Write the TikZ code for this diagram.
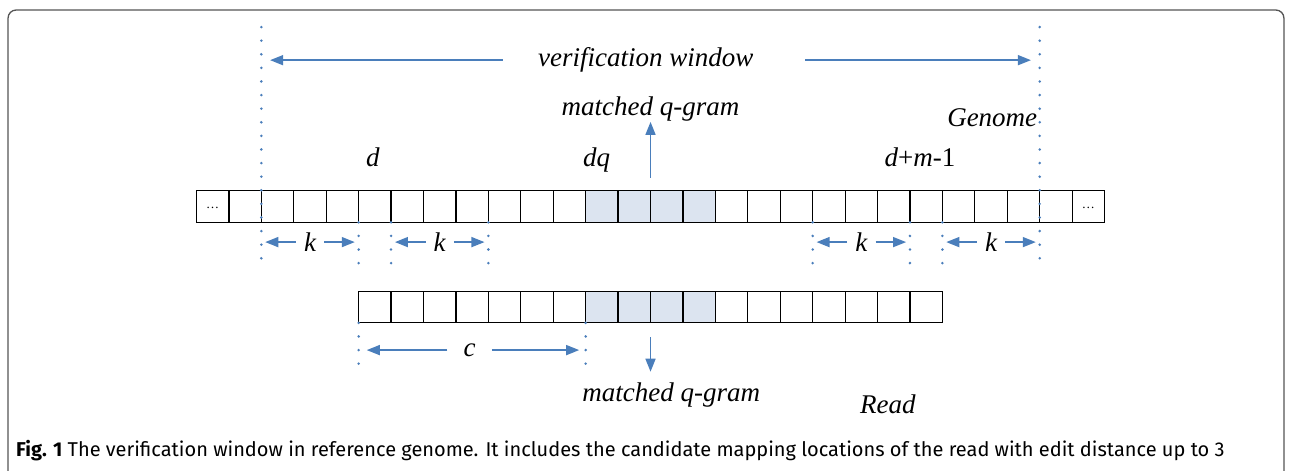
\documentclass[tikz,border=0pt]{standalone}
\usepackage{fontspec}
\setmainfont{Liberation Serif}
\newfontfamily\capfont{Fira Sans}
\usepackage{xcolor}
\definecolor{ArrowBlue}{HTML}{4A7EBB}
\definecolor{CellShade}{HTML}{DCE4F0}
\definecolor{FrameGray}{HTML}{555555}
\usepackage{tikz}
\usetikzlibrary{arrows.meta, positioning}

\tikzset{
  cell/.style={draw=black, line width=1.2pt},
  qcell/.style={cell, fill=CellShade},
  bluearrow/.style={ArrowBlue, line width=1.5pt, -{Triangle[length=13pt,width=10pt]}},
  dotline/.style={ArrowBlue, line width=2.8pt, line cap=round, dash pattern=on 0pt off 13.6pt},
  lbl/.style={font=\fontsize{27}{30}\selectfont\itshape, inner sep=0pt},
}

\begin{document}
\begin{tikzpicture}[x=32.43pt, y=32.43pt]
  \useasboundingbox (-6.059,-7.64) rectangle (33.78,6.855);
  % frame, open at the bottom
  \draw[FrameGray, line width=1.3pt, rounded corners=8pt]
    (-5.81,-7.9) -- (-5.81,6.546) -- (33.53,6.546) -- (33.53,-7.9);

  % genome row, matched q-gram shaded
  \foreach \i in {0,...,27} \draw[cell] (\i,0) rectangle ++(1,0.97);
  \foreach \i in {12,...,15} \draw[qcell] (\i,0) rectangle ++(1,0.97);
  \node[font=\fontsize{13}{13}\selectfont] (gleft) at (0.5,0.45) {\ldots};
  \node[font=\fontsize{13}{13}\selectfont] (gright) at (27.5,0.45) {\ldots};

  % read row
  \foreach \j in {0,...,17} \draw[cell] (5+\j,-3.1) rectangle ++(1,0.96);
  \foreach \j in {7,...,10} \draw[qcell] (5+\j,-3.1) rectangle ++(1,0.96);

  % window borders
  \draw[dotline] (2,6.02) -- (2,-1.29);
  \draw[dotline] (26,6.02) -- (26,-1.29);
  \foreach \x in {5,6,9,19,22,23} \draw[dotline] (\x,0) -- (\x,-1.29);
  \foreach \x in {5,12} \draw[dotline] (\x,-3.1) -- (\x,-4.49);

  % verification window
  \node[lbl, inner xsep=35pt] (vw) at (13.85,5) {verification window};
  \coordinate (vwl) at (2.27,5);
  \coordinate (vwr) at (25.73,5);
  \draw[bluearrow] (vw.west) -- (vwl);
  \draw[bluearrow] ([xshift=17pt]vw.east) -- (vwr);

  % k spans
  \foreach \a/\b [count=\n] in {2/5,6/9,19/22,23/26} {
    \node[lbl, inner xsep=8pt] (k\n) at ({(\a+\b)/2},-0.61) {k};
    \coordinate (kl\n) at ({\a+0.12},-0.61);
    \coordinate (kr\n) at ({\b-0.12},-0.61);
    \draw[bluearrow] (k\n.west) -- (kl\n);
    \draw[bluearrow] (k\n.east) -- (kr\n);
  }

  % c span on the read
  \node[lbl, inner xsep=16pt] (c) at (8.42,-3.94) {c};
  \coordinate (cl) at (5.25,-3.94);
  \coordinate (cr) at (11.8,-3.94);
  \draw[bluearrow] (c.west) -- (cl);
  \draw[bluearrow] (c.east) -- (cr);

  % labels
  \node[lbl, anchor=base] (d) at (5.44,1.71) {d};
  \node[lbl, anchor=base] (dq) at (12.34,1.71) {dq};
  \node[lbl, anchor=base] (dm) at (22.31,1.71) {d\textup{+}m\textup{-1}};
  \node[lbl, anchor=base east] (genome) at (25.93,2.94) {Genome};
  \node[lbl, anchor=base] (read) at (21.32,-5.89) {Read};

  % matched q-gram, genome side and read side
  \node[lbl, anchor=base] (mqg) at (14,3.28) {matched q-gram};
  \coordinate (mqgs) at (14,1.37);
  \draw[bluearrow] (mqgs) -- (mqg.south);
  \node[lbl, anchor=base] (mqr) at (14.64,-5.53) {matched q-gram};
  \coordinate (mqrs) at (14,-3.54);
  \draw[bluearrow, shorten >=11pt] (mqrs) -- (mqrs |- mqr.north);

  \node[anchor=base west, inner sep=0pt, font=\capfont\fontsize{20}{22}\selectfont]
    (caption) at (-5.566,-7.206)
    {\textbf{Fig. 1} The verification window in reference genome. It includes the candidate mapping locations of the read with edit distance up to 3};
\end{tikzpicture}
\end{document}
